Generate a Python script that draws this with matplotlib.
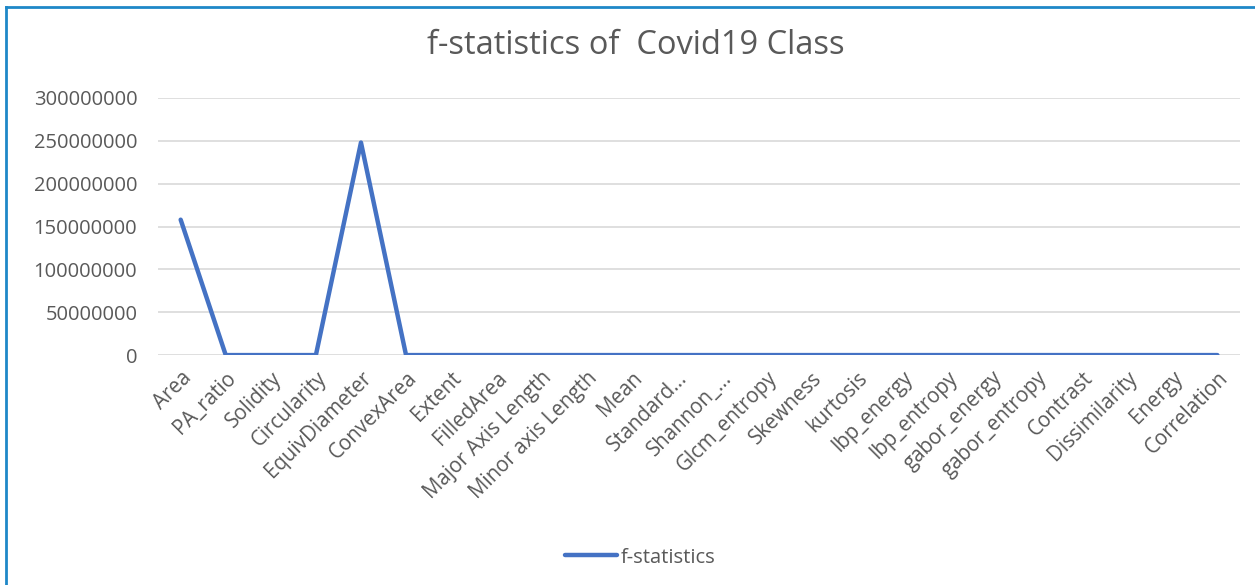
import numpy as np
import matplotlib
matplotlib.use('Agg')
import matplotlib.pyplot as plt
from matplotlib.lines import Line2D

features = [
    "Area", "PA_ratio", "Solidity", "Circularity", "EquivDiameter", "ConvexArea",
    "Extent", "FilledArea", "Major Axis Length", "Minor axis Length", "Mean",
    "Standard...", "Shannon_...", "Glcm_entropy", "Skewness", "kurtosis",
    "lbp_energy", "lbp_entropy", "gabor_energy", "gabor_entropy", "Contrast",
    "Dissimilarity", "Energy", "Correlation",
]
f_stat = [
    158000000, 0, 0, 0, 248000000, 0,
    0, 0, 0, 0, 0,
    0, 0, 0, 0, 0,
    0, 0, 0, 0, 0,
    0, 0, 0,
]
y_ticks = [0, 50000000, 100000000, 150000000, 200000000, 250000000, 300000000]

plt.rcParams['font.family'] = ['Open Sans', 'DejaVu Sans']
TEXT = "#595959"
LINE = "#4472C4"

fig = plt.figure(figsize=(12.55, 5.85), dpi=100)
ax = fig.add_axes([0.126, 0.393, 0.862, 0.4395])

x = np.arange(len(features))
ax.plot(x, f_stat, color=LINE, linewidth=3.2, solid_joinstyle='round', solid_capstyle='round')

ax.set_xlim(-0.5, len(features) - 0.5)
ax.set_ylim(0, 300000000)
ax.set_yticks(y_ticks)
ax.set_yticklabels([str(v) for v in y_ticks], fontsize=14.5, color=TEXT)
ax.set_xticks(x)
ax.set_xticklabels(features, rotation=45, ha='right', rotation_mode='anchor',
                   fontsize=14.8, color=TEXT)
ax.tick_params(axis='both', length=0)
ax.tick_params(axis='y', pad=15)
ax.tick_params(axis='x', pad=9)

ax.grid(axis='y', color='#d9d9d9', linewidth=1.2)
ax.set_axisbelow(True)
for s in ax.spines.values():
    s.set_visible(False)

fig.text(0.507, 0.922, "f-statistics of  Covid19 Class", ha='center', va='center',
         fontsize=23.5, color=TEXT)

handle = Line2D([0], [0], color=LINE, linewidth=3.2, solid_capstyle='round')
fig.legend([handle], ["f-statistics"], loc='center', bbox_to_anchor=(0.51, 0.047),
           frameon=False, fontsize=14.5, labelcolor=TEXT, handlelength=2.6,
           handletextpad=0.15)

# blue frame along the top and left edges
fig.add_artist(Line2D([0.0045, 0.0045], [0, 0.988], transform=fig.transFigure,
                      color='#1e88c8', linewidth=2))
fig.add_artist(Line2D([0.0045, 1], [0.988, 0.988], transform=fig.transFigure,
                      color='#1e88c8', linewidth=2))

fig.savefig("out.png", dpi=100)
